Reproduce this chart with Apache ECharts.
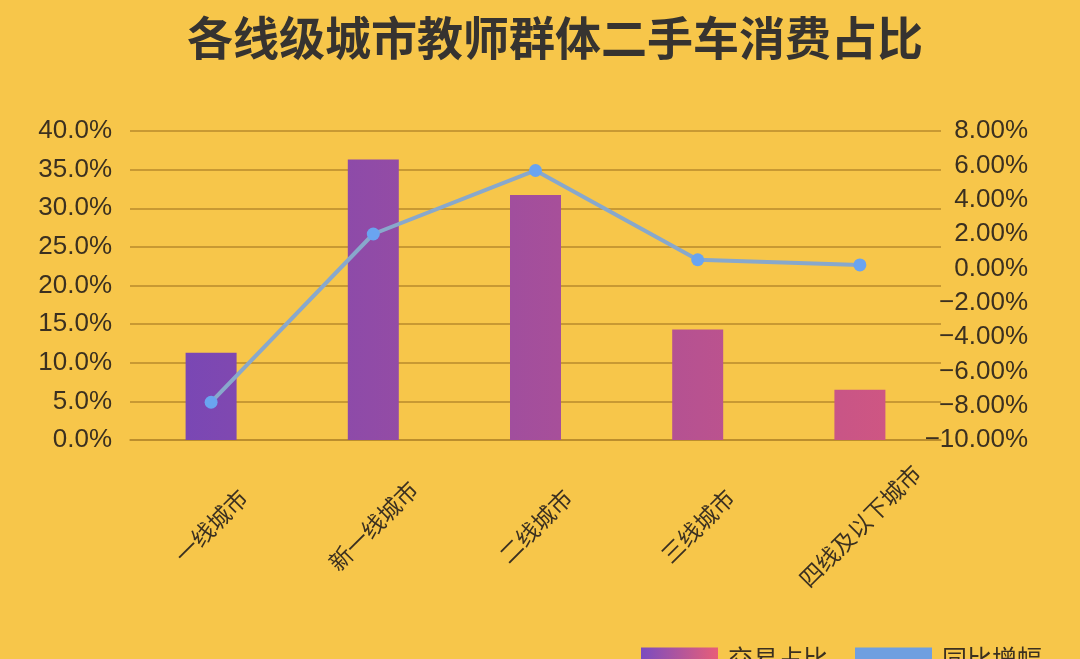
<!DOCTYPE html>
<html>
<head>
<meta charset="utf-8">
<script src="https://cdn.jsdelivr.net/npm/echarts@6/dist/echarts.min.js"></script>
<style>
html,body{margin:0;padding:0;background:#F7C64A;}
#c{width:1080px;height:659px;}
</style>
</head>
<body>
<div id="c"></div>
<script>
const categories = ['一线城市', '新一线城市', '二线城市', '三线城市', '四线及以下城市'];
const shareValues = [11.3, 36.3, 31.7, 14.3, 6.5];      // 交易占比 (%)
const growthValues = [-7.8, 2.0, 5.7, 0.5, 0.2];       // 同比增幅 (%)
const leftTicks = { min: 0, max: 40, interval: 5 };
const rightTicks = { min: -10, max: 8, interval: 2 };

const chart = echarts.init(document.getElementById('c'));
const font = '"Noto Sans CJK SC", "Liberation Sans", Arial, sans-serif';
const labelColor = '#3b3020';
const gridColor = '#b88a2c';

const barGradient = {
  type: 'linear', x: 130, y: 0, x2: 940, y2: 0, global: true,
  colorStops: [{ offset: 0, color: '#7346b8' }, { offset: 1, color: '#d5577f' }]
};
const legendGradient = {
  type: 'linear', x: 0, y: 0, x2: 1, y2: 0,
  colorStops: [{ offset: 0, color: '#7a4cc0' }, { offset: 1, color: '#e85e78' }]
};

chart.setOption({
  backgroundColor: '#F7C64A',
  textStyle: { fontFamily: font },
  title: {
    text: '各线级城市教师群体二手车消费占比',
    left: 182,
    top: 10,
    textStyle: { fontSize: 46, fontWeight: 'bold', color: '#363330', fontFamily: font }
  },
  legend: {
    top: 646,
    left: 641,
    padding: 0,
    itemWidth: 77,
    itemHeight: 22,
    itemGap: 27,
    textStyle: { fontSize: 25, color: labelColor, padding: [0, 0, 0, 5] },
    data: [
      { name: '交易占比', icon: 'rect', itemStyle: { color: legendGradient } },
      { name: '同比增幅', icon: 'rect', itemStyle: { color: '#6f9fe0' } }
    ]
  },
  grid: { left: 130, right: 139, top: 131, bottom: 219 },
  xAxis: {
    type: 'category',
    data: categories,
    axisLine: { show: true, lineStyle: { color: gridColor, width: 1.5 } },
    axisTick: { show: false },
    axisLabel: {
      rotate: 45,
      interval: 0,
      fontSize: 23,
      color: labelColor,
      align: 'center',
      verticalAlign: 'middle',
      margin: 86
    }
  },
  yAxis: [
    {
      type: 'value',
      min: leftTicks.min, max: leftTicks.max, interval: leftTicks.interval,
      axisLine: { show: false },
      axisTick: { show: false },
      splitLine: { show: true, lineStyle: { color: gridColor, width: 1.5 } },
      axisLabel: {
        fontSize: 26, color: labelColor, margin: 18,
        fontFamily: '"Liberation Sans", Arial, sans-serif',
        formatter: v => v.toFixed(1) + '%'
      }
    },
    {
      type: 'value',
      min: rightTicks.min, max: rightTicks.max, interval: rightTicks.interval,
      axisLine: { show: false },
      axisTick: { show: false },
      splitLine: { show: false },
      axisLabel: {
        fontSize: 26, color: labelColor, margin: 87, align: 'right',
        fontFamily: '"Liberation Sans", Arial, sans-serif',
        formatter: v => (v < 0 ? '\u2212' : '') + Math.abs(v).toFixed(2) + '%'
      }
    }
  ],
  series: [
    {
      name: '交易占比',
      type: 'bar',
      data: shareValues,
      barWidth: 51,
      itemStyle: { color: barGradient },
      z: 2
    },
    {
      name: '同比增幅',
      type: 'line',
      yAxisIndex: 1,
      data: growthValues,
      symbol: 'circle',
      symbolSize: 13,
      lineStyle: { color: '#88a8cc', width: 4 },
      itemStyle: { color: '#6aa4f0' },
      z: 3
    }
  ]
});
</script>
</body>
</html>
